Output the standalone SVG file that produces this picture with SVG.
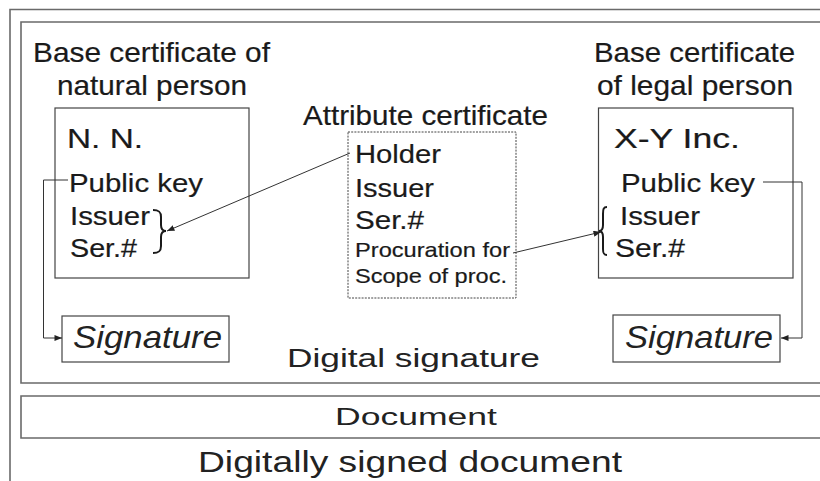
<svg xmlns="http://www.w3.org/2000/svg" width="820" height="481" viewBox="0 0 820 481">
<style>
text{font-family:"Liberation Sans",Arial,sans-serif;fill:#1a1a1a;stroke:#1a1a1a;stroke-width:0.2}
.t27{font-size:28px}
.t25{font-size:26px}
.t20{font-size:21px}
.sig{font-size:32px;font-style:italic}
.lbl{stroke:none;fill:#222}
.frame{fill:none;stroke:#6a6a6a;stroke-width:1.6}
.box{fill:none;stroke:#444;stroke-width:1.2}
.dash{fill:none;stroke:#444;stroke-width:1;stroke-dasharray:2 1.2}
.conn{fill:none;stroke:#333;stroke-width:1}
.brace{fill:none;stroke:#1a1a1a;stroke-width:2}
</style>
<defs>
<marker id="arr" viewBox="0 0 10 8" refX="10" refY="4" markerWidth="8" markerHeight="6" markerUnits="userSpaceOnUse" orient="auto">
<path d="M0,0 L10,4 L0,8 Z" fill="#222"/>
</marker>
</defs>
<rect width="820" height="481" fill="#fff"/>
<g id="frames">
<path class="frame" d="M10,481 V9.5 H820"/>
<path class="frame" d="M820,22 H21 V383 H820"/>
<path class="frame" d="M820,396 H21 V438 H820"/>
<text class="lbl" style="font-size:26px" x="287" y="367" textLength="253" lengthAdjust="spacingAndGlyphs">Digital signature</text>
<text class="lbl" style="font-size:24px" x="335" y="425" textLength="162" lengthAdjust="spacingAndGlyphs">Document</text>
<text class="lbl" style="font-size:29px" x="198" y="472" textLength="424" lengthAdjust="spacingAndGlyphs">Digitally signed document</text>
</g>
<g id="natural-cert">
<text class="t27" x="33" y="62" textLength="237" lengthAdjust="spacingAndGlyphs">Base certificate of</text>
<text class="t27" x="57" y="95" textLength="190" lengthAdjust="spacingAndGlyphs">natural person</text>
<rect class="box" x="55" y="108" width="194" height="170"/>
<text class="t27" x="67" y="148" textLength="76" lengthAdjust="spacingAndGlyphs">N. N.</text>
<text class="t25" x="69" y="192" textLength="134" lengthAdjust="spacingAndGlyphs">Public key</text>
<text class="t25" x="70" y="225" textLength="80" lengthAdjust="spacingAndGlyphs">Issuer</text>
<text class="t25" x="70" y="257" textLength="67" lengthAdjust="spacingAndGlyphs">Ser.#</text>
<path class="brace" d="M153,210 C159,210 161,212 161,217 L161,225 C161,229 163,231 166,231 C163,231 161,233 161,237 L161,246 C161,251 159,253 153,253"/>
</g>
<g id="attribute-cert">
<text class="t27" x="303" y="125" textLength="245" lengthAdjust="spacingAndGlyphs">Attribute certificate</text>
<rect class="dash" x="348" y="132" width="168" height="166"/>
<text class="t25" x="355" y="163" textLength="86" lengthAdjust="spacingAndGlyphs">Holder</text>
<text class="t25" x="355" y="197" textLength="79" lengthAdjust="spacingAndGlyphs">Issuer</text>
<text class="t25" x="355" y="229" textLength="69" lengthAdjust="spacingAndGlyphs">Ser.#</text>
<text class="t20" x="355" y="257" textLength="155" lengthAdjust="spacingAndGlyphs">Procuration for</text>
<text class="t20" x="355" y="283" textLength="152" lengthAdjust="spacingAndGlyphs">Scope of proc.</text>
</g>
<g id="legal-cert">
<text class="t27" x="594" y="62" textLength="201" lengthAdjust="spacingAndGlyphs">Base certificate</text>
<text class="t27" x="597" y="95" textLength="196" lengthAdjust="spacingAndGlyphs">of legal person</text>
<rect class="box" x="598.5" y="108" width="194.5" height="170"/>
<text class="t27" x="614" y="148" textLength="126" lengthAdjust="spacingAndGlyphs">X-Y Inc.</text>
<text class="t25" x="621" y="192" textLength="134" lengthAdjust="spacingAndGlyphs">Public key</text>
<text class="t25" x="620" y="225" textLength="80" lengthAdjust="spacingAndGlyphs">Issuer</text>
<text class="t25" x="615" y="257" textLength="70" lengthAdjust="spacingAndGlyphs">Ser.#</text>
<path class="brace" d="M607,207 C603.5,207 603,209 603,214 L603,225 C603,229 601.5,231 599,231 C601.5,231 603,233 603,237 L603,249 C603,253 603.5,255 607,255"/>
</g>
<g id="signature-left">
<rect class="box" x="62" y="316" width="167" height="46"/>
<text class="sig lbl" x="73" y="348" textLength="149" lengthAdjust="spacingAndGlyphs">Signature</text>
</g>
<g id="signature-right">
<rect class="box" x="613" y="315" width="167" height="47"/>
<text class="sig lbl" x="625" y="348" textLength="148" lengthAdjust="spacingAndGlyphs">Signature</text>
</g>
<g id="connectors">
<line class="conn" x1="350" y1="153" x2="167" y2="231" marker-end="url(#arr)"/>
<line class="conn" x1="513" y1="253" x2="601" y2="232" marker-end="url(#arr)"/>
<polyline class="conn" points="68,180 43.5,180 43.5,338 62,338" marker-end="url(#arr)"/>
<polyline class="conn" points="763,182 802,182 802,338 781,338" marker-end="url(#arr)"/>
</g>
</svg>
